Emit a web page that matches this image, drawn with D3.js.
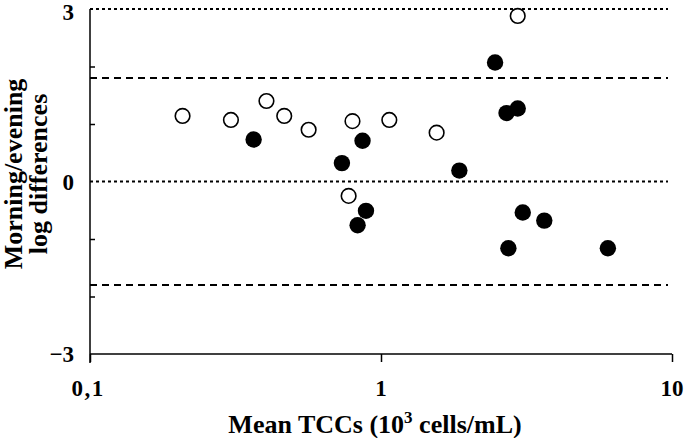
<!DOCTYPE html>
<html>
<head>
<meta charset="utf-8">
<script src="https://cdn.jsdelivr.net/npm/d3@7"></script>
<style>
  html, body { margin: 0; padding: 0; background: #fff; }
  svg text { font-family: "Liberation Serif", "Times New Roman", serif; font-weight: bold; fill: #000; }
</style>
</head>
<body>
<svg id="chart" width="685" height="438"></svg>
<script>
// Open circles (x = mean TCC, y = log difference)
const openX = [0.208, 0.305, 0.404, 0.465, 0.564, 0.798, 1.068, 1.553, 0.774, 2.95];
const openY = [1.14, 1.07, 1.40, 1.14, 0.90, 1.05, 1.07, 0.85, -0.25, 2.88];
// Filled circles
const filledX = [0.365, 0.734, 0.864, 1.859, 0.888, 0.831, 2.466, 2.70, 2.95, 3.07, 3.64, 2.74, 6.02];
const filledY = [0.73, 0.32, 0.71, 0.19, -0.51, -0.76, 2.07, 1.19, 1.27, -0.54, -0.68, -1.16, -1.16];
// Reference lines
const dottedLines = [3, 0];
const dashedLines = [1.8, -1.8];
// Ticks
const yTicks = [-3, -2, -1, 0, 1, 2, 3];
const yTickLabels = {"-3": "\u22123", "0": "0", "3": "3"};
const xTicks = [0.1, 1, 10];
const xTickLabels = ["0,1", "1", "10"];

const svg = d3.select("#chart");
const x = d3.scaleLog().domain([0.1, 10]).range([90, 672]);
const y = d3.scaleLinear().domain([-3, 3]).range([354, 9]);

// reference lines
svg.selectAll("line.dot").data(dottedLines).enter().append("line")
  .attr("x1", 90).attr("x2", 668)
  .attr("y1", d => y(d)).attr("y2", d => y(d))
  .attr("stroke", "#000").attr("stroke-width", 1.8).attr("stroke-dasharray", "3,3");
svg.selectAll("line.dash").data(dashedLines).enter().append("line")
  .attr("x1", 90).attr("x2", 668)
  .attr("y1", d => y(d)).attr("y2", d => y(d))
  .attr("stroke", "#000").attr("stroke-width", 1.8).attr("stroke-dasharray", "7,5");

// y axis
const yAxis = d3.axisLeft(y).tickValues(yTicks).tickSize(-5).tickFormat(() => "");
const gy = svg.append("g").attr("transform", "translate(90,0)").call(yAxis);
gy.select(".domain").attr("d", `M0,${y(3)}V${y(-3) + 9}`).attr("stroke-width", 1.5);
gy.selectAll(".tick line").attr("stroke-width", 1.5);
gy.selectAll(".tick").filter(d => d === 3 || d === 0 || d === -3)
  .select("line").remove();
svg.selectAll("text.ylab").data(yTicks.filter(d => yTickLabels[d] !== undefined)).enter().append("text")
  .attr("x", 74).attr("y", d => y(d) + 8).attr("dy", (d) => d === 3 ? 3 : 0)
  .attr("text-anchor", "end").attr("font-size", 23)
  .text(d => yTickLabels[d]);

// x axis
const xAxis = d3.axisBottom(x).tickValues(xTicks).tickSize(8).tickFormat(() => "");
const gx = svg.append("g").attr("transform", `translate(0,${y(-3)})`).call(xAxis);
gx.select(".domain").attr("d", `M${x(0.1)},0H${x(10)}`).attr("stroke-width", 1.5);
gx.selectAll(".tick line").attr("stroke-width", 1.5);
svg.selectAll("text.xlab").data(xTicks).enter().append("text")
  .attr("x", (d, i) => x(d) + (i === 0 ? -2 : 0))
  .attr("y", 396)
  .attr("text-anchor", "middle").attr("font-size", 23)
  .attr("letter-spacing", (d, i) => i === 0 ? 1.5 : 0)
  .text((d, i) => xTickLabels[i]);

// axis titles
const xt = svg.append("text").attr("x", 375).attr("y", 433)
  .attr("text-anchor", "middle").attr("font-size", 26);
xt.append("tspan").text("Mean TCCs (10");
xt.append("tspan").attr("font-size", 17).attr("dy", -10).text("3");
xt.append("tspan").attr("dy", 10).text(" cells/mL)");

const yt = svg.append("g").attr("transform", "translate(0,174) rotate(-90)");
yt.append("text").attr("x", 0).attr("y", 22).attr("text-anchor", "middle").attr("font-size", 26).text("Morning/evening");
yt.append("text").attr("x", 0).attr("y", 47).attr("text-anchor", "middle").attr("font-size", 26).text("log differences");

// points
svg.selectAll("circle.open").data(openX).enter().append("circle")
  .attr("cx", d => x(d)).attr("cy", (d, i) => y(openY[i])).attr("r", 7.3)
  .attr("fill", "#fff").attr("stroke", "#000").attr("stroke-width", 1.6);
svg.selectAll("circle.filled").data(filledX).enter().append("circle")
  .attr("cx", d => x(d)).attr("cy", (d, i) => y(filledY[i])).attr("r", 8.2)
  .attr("fill", "#000");
</script>
</body>
</html>
